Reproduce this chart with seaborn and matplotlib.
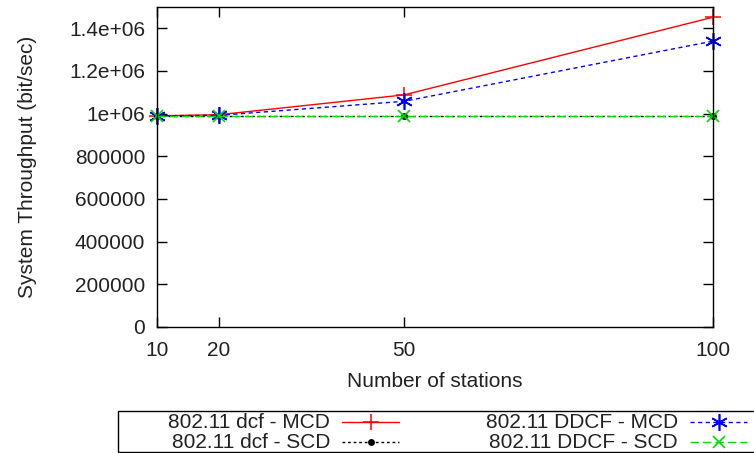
import matplotlib
matplotlib.use("Agg")
import matplotlib.pyplot as plt
from matplotlib.lines import Line2D
from matplotlib.patches import Rectangle
import seaborn as sns
import pandas as pd

# Throughput measurements per number of stations
stations = [10, 20, 50, 100]
dcf_mcd = [990000, 995000, 1088000, 1452000]
dcf_scd = [990000, 990000, 990000, 990000]
ddcf_mcd = [990000, 992000, 1058000, 1340000]
ddcf_scd = [990000, 990000, 990000, 990000]

series_names = ["802.11 dcf - MCD", "802.11 dcf - SCD",
                "802.11 DDCF - MCD", "802.11 DDCF - SCD"]
yticks = [0, 200000, 400000, 600000, 800000, 1000000, 1200000, 1400000]
ytick_labels = ["0", "200000", "400000", "600000", "800000",
                "1e+06", "1.2e+06", "1.4e+06"]

sns.set_theme(style="ticks")
plt.rcParams["font.family"] = ["Liberation Sans", "DejaVu Sans"]

W, H = 754, 453
FS = 15
TXT = "#222222"

fig = plt.figure(figsize=(W / 100, H / 100), dpi=100)
ax = fig.add_axes([157 / W, 1 - 327 / H, (713 - 157) / W, (327 - 7) / H])

styles = [
    dict(color="#ff0000", marker="+", markersize=12, mew=1.1, dashes=None),
    dict(color="#000000", marker="o", markersize=5, mew=0, dashes=(2.0, 2.0)),
    dict(color="#0000ff", marker=(6, 2, 0), markersize=12, mew=1.2, dashes=(3.0, 2.5)),
    dict(color="#00dd00", marker="x", markersize=9, mew=1.2, dashes=(6.0, 3.0)),
]
values = [dcf_mcd, dcf_scd, ddcf_mcd, ddcf_scd]

for name, vals, st in zip(series_names, values, styles):
    df = pd.DataFrame({"stations": stations, "throughput": vals})
    sns.lineplot(data=df, x="stations", y="throughput", ax=ax, legend=False,
                 color=st["color"], marker=st["marker"], markersize=st["markersize"],
                 markeredgewidth=st["mew"], markeredgecolor=st["color"],
                 markerfacecolor=st["color"], linewidth=1.0)
    line = ax.lines[-1]
    if st["dashes"] is not None:
        line.set_dashes(st["dashes"])
    line.set_clip_on(False)

ax.set_xlim(10, 100)
ax.set_ylim(0, 1500000)
ax.set_xticks(stations)
ax.set_xticklabels([str(s) for s in stations])
ax.set_yticks(yticks)
ax.set_yticklabels(ytick_labels)

ax.tick_params(axis="both", direction="in", length=7, width=1, colors="black",
               labelcolor=TXT, labelsize=FS, top=True, right=True)
ax.tick_params(axis="y", pad=8.5)
ax.tick_params(axis="x", pad=10)
ax.set_xlabel("Number of stations", fontsize=FS, color=TXT, labelpad=9)
ax.set_ylabel("System Throughput (bit/sec)", fontsize=FS, color=TXT, labelpad=23)
for sp in ax.spines.values():
    sp.set_color("black")
    sp.set_linewidth(1.0)
    sp.set_visible(True)

# Key box below the plot: right-aligned titles followed by line samples
def fx(px):
    return px / W

def fy(py):
    return 1 - py / H

fig.add_artist(Rectangle((fx(118), fy(452)), fx(760) - fx(118), fy(411) - fy(452),
                         transform=fig.transFigure, fill=False,
                         edgecolor="black", linewidth=1.0, clip_on=False))

key_cols = [(330, 342, 399), (678, 690, 747)]
key_rows = [422, 442]
for i, (name, st) in enumerate(zip(series_names, styles)):
    col, row = divmod(i, 2)
    text_right, x0, x1 = key_cols[col]
    y = fy(key_rows[row])
    fig.text(fx(text_right), y, name, ha="right", va="center",
             fontsize=FS, color=TXT)
    xm = (x0 + x1) / 2
    sample = Line2D([fx(x0), fx(xm), fx(x1)], [y, y, y], transform=fig.transFigure,
                    color=st["color"], linewidth=1.0, marker=st["marker"],
                    markersize=st["markersize"], markeredgewidth=st["mew"],
                    markeredgecolor=st["color"], markerfacecolor=st["color"],
                    markevery=[1])
    if st["dashes"] is not None:
        sample.set_dashes(st["dashes"])
    fig.add_artist(sample)

fig.savefig("out.png", dpi=100)
